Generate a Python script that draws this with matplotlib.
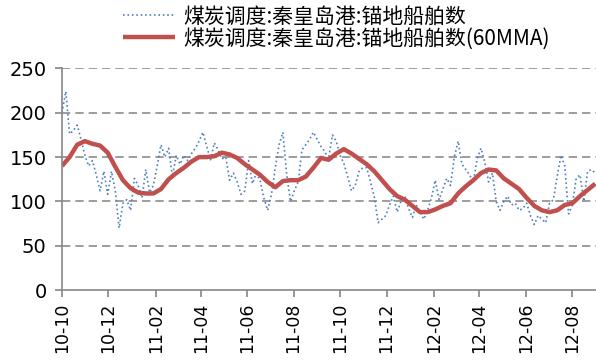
import pandas as pd
import matplotlib
matplotlib.use('Agg')
import matplotlib.pyplot as plt
import matplotlib.dates as mdates
from matplotlib.font_manager import FontProperties

# 秦皇岛港锚地船舶数 (5-day spacing from 2010-10-01)
ship_start = '2010-10-01'
coal_ships = [200, 224, 176, 180, 186, 170, 152, 140, 146, 130,
              112, 134, 108, 134, 112, 70, 98, 102, 90, 126,
              118, 104, 136, 110, 118, 140, 164, 150, 160, 128,
              152, 142, 152, 146, 154, 160, 168, 178, 162, 147,
              166, 158, 148, 150, 124, 132, 122, 108, 112, 146,
              120, 132, 124, 104, 90, 108, 138, 164, 178, 130,
              100, 112, 122, 158, 164, 170, 178, 170, 162, 156,
              148, 175, 168, 152, 143, 128, 112, 118, 134, 138,
              138, 122, 105, 76, 80, 84, 96, 106, 88, 100,
              106, 92, 82, 96, 88, 80, 90, 104, 124, 102,
              114, 126, 118, 150, 168, 142, 136, 130, 122, 148,
              160, 144, 122, 132, 100, 90, 100, 106, 96, 98,
              90, 92, 98, 84, 74, 84, 80, 76, 98, 102,
              128, 152, 140, 86, 96, 126, 130, 100, 134, 136,
              132]

# 60日移动平均 (10-day spacing)
ma_start = '2010-10-01'
ships_60mma = [140, 150, 164, 168, 165, 163, 155, 139, 124, 115,
               110, 109, 109, 114, 125, 132, 138, 145, 150, 150,
               151, 155, 153, 149, 142, 136, 130, 122, 116, 123,
               124, 124, 128, 138, 149, 147, 154, 159, 154, 148,
               142, 134, 124, 114, 106, 102, 95, 88, 88, 91,
               95, 98, 109, 117, 124, 132, 136, 135, 126, 120,
               114, 104, 95, 90, 88, 90, 96, 98, 106, 113,
               120]

label_raw = '煤炭调度:秦皇岛港:锚地船舶数'
label_ma = '煤炭调度:秦皇岛港:锚地船舶数(60MMA)'

y_ticks = [0, 50, 100, 150, 200, 250]

plt.rcParams['font.family'] = ['DejaVu Sans']

raw_dates = pd.date_range(ship_start, periods=len(coal_ships), freq='5D')
ma_dates = pd.date_range(ma_start, periods=len(ships_60mma), freq='10D')

fig = plt.figure(figsize=(5.96, 3.6), dpi=100)
ax = fig.add_axes([0.104, 0.194, 0.896, 0.616])

ax.plot(raw_dates, coal_ships, color='#4F81BD', linestyle=':', linewidth=1.2,
        label=label_raw)
ax.plot(ma_dates, ships_60mma, color='#C0504D', linewidth=3.2,
        solid_capstyle='butt', label=label_ma)

ax.set_ylim(0, 250)
ax.set_yticks(y_ticks)
ax.set_xlim(pd.Timestamp('2010-10-01'), pd.Timestamp('2012-09-01'))
ax.xaxis.set_major_locator(mdates.MonthLocator(bymonth=[2, 4, 6, 8, 10, 12]))
ax.xaxis.set_major_formatter(mdates.DateFormatter('%y-%m'))

for v in y_ticks[1:]:
    ax.axhline(v, color='#8C8C8C', linewidth=1.2, linestyle=(0, (5, 3)), zorder=0)

for side in ['top', 'right']:
    ax.spines[side].set_visible(False)
for side in ['left', 'bottom']:
    ax.spines[side].set_color('#868686')
    ax.spines[side].set_linewidth(1.2)

ax.tick_params(axis='x', direction='out', length=5, color='#868686', width=1.2,
               labelsize=12.5, labelrotation=90, pad=4)
ax.tick_params(axis='y', direction='out', length=5, color='#868686', width=1.2,
               labelsize=14, pad=6)

legend_font = FontProperties(family=['Noto Sans CJK SC', 'DejaVu Sans'], size=15)
ax.legend(loc='upper left', bbox_to_anchor=(0.203, 0.99), bbox_transform=fig.transFigure,
          frameon=False, prop=legend_font, handlelength=2.5, handletextpad=0.4,
          labelspacing=0.0, borderaxespad=0.0, borderpad=0.1)

plt.savefig('out.png', dpi=100)
plt.close()
